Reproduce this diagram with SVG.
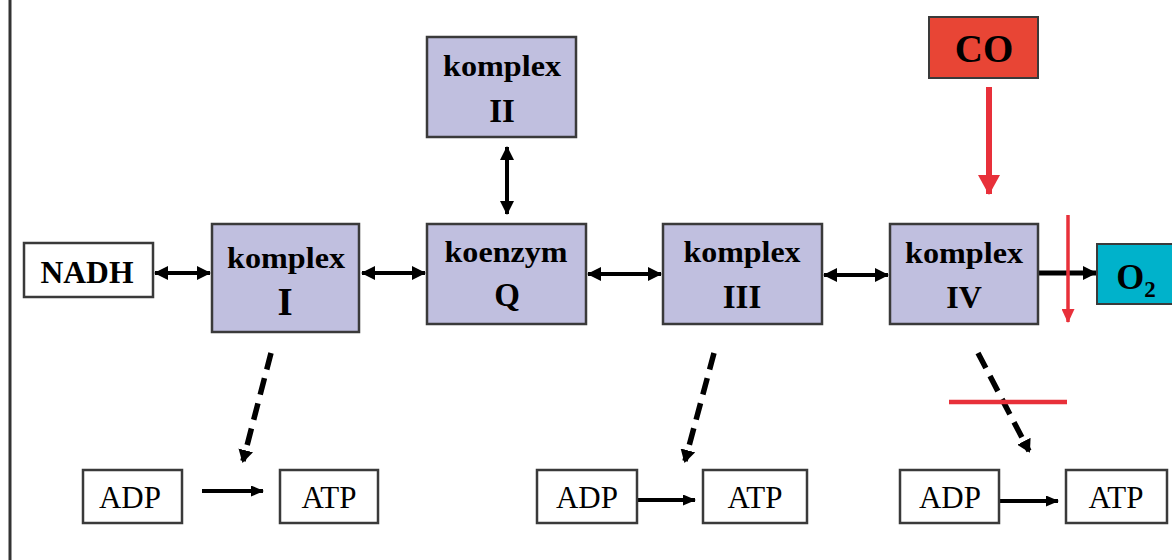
<svg xmlns="http://www.w3.org/2000/svg" width="1172" height="560" viewBox="0 0 1172 560">
  <style>
    .cx { fill: #c0bfdf; stroke: #3a3a3a; stroke-width: 2.5; }
    .wb { fill: #ffffff; stroke: #3a3a3a; stroke-width: 2.5; }
    .bl { font-family: "Liberation Serif", "Times New Roman", serif; font-weight: bold; fill: #000; text-anchor: middle; }
    .rg { font-family: "Liberation Serif", "Times New Roman", serif; fill: #000; text-anchor: middle; font-size: 31px; }
    .dbl { stroke: #000; stroke-width: 4; fill: none; marker-start: url(#hs); marker-end: url(#he); }
    .one { stroke: #000; stroke-width: 4; fill: none; marker-end: url(#hs1); }
    .dash { stroke: #000; stroke-width: 5.5; fill: none; stroke-dasharray: 17 9; marker-end: url(#hd); }
  </style>
  <defs>
    <marker id="he" markerUnits="userSpaceOnUse" viewBox="0 0 14 14" refX="13" refY="7" markerWidth="14" markerHeight="14" orient="auto">
      <path d="M0,0 L14,7 L0,14 Z" fill="#000"/>
    </marker>
    <marker id="hs" markerUnits="userSpaceOnUse" viewBox="0 0 14 14" refX="1" refY="7" markerWidth="14" markerHeight="14" orient="auto">
      <path d="M14,0 L0,7 L14,14 Z" fill="#000"/>
    </marker>
    <marker id="hs1" markerUnits="userSpaceOnUse" viewBox="0 0 13 11" refX="12" refY="5.5" markerWidth="13" markerHeight="11" orient="auto">
      <path d="M0,0 L13,5.5 L0,11 Z" fill="#000"/>
    </marker>
    <marker id="hd" markerUnits="userSpaceOnUse" viewBox="0 0 13 15" refX="11" refY="7.5" markerWidth="13" markerHeight="15" orient="auto">
      <path d="M0,0 L13,7.5 L0,15 Z" fill="#000"/>
    </marker>
    <marker id="hr" markerUnits="userSpaceOnUse" viewBox="0 0 20 22" refX="19" refY="11" markerWidth="20" markerHeight="22" orient="auto">
      <path d="M0,0 L20,11 L0,22 Z" fill="#e8303a"/>
    </marker>
    <marker id="hr2" markerUnits="userSpaceOnUse" viewBox="0 0 14 13" refX="13" refY="6.5" markerWidth="14" markerHeight="13" orient="auto">
      <path d="M0,0 L14,6.5 L0,13 Z" fill="#e8303a"/>
    </marker>
  </defs>

  <rect width="1172" height="560" fill="#ffffff"/>
  <!-- frame edge on the left -->
  <line x1="10" y1="0" x2="10" y2="560" stroke="#333" stroke-width="3"/>

  <!-- connectors -->
  <g id="connectors">
    <line class="dbl" x1="155" y1="273" x2="210" y2="273"/>
    <line class="dbl" x1="362" y1="273" x2="425" y2="273"/>
    <line class="dbl" x1="588" y1="274" x2="661" y2="274"/>
    <line class="dbl" x1="824" y1="275" x2="888" y2="275"/>
    <line class="dbl" x1="507" y1="147" x2="507" y2="214"/>
    <line stroke="#000" stroke-width="5" x1="1039" y1="273" x2="1096" y2="273" marker-end="url(#he)"/>
    <!-- carbon monoxide inhibition -->
    <line stroke="#e8303a" stroke-width="6" x1="989" y1="87" x2="989" y2="194" marker-end="url(#hr)"/>
    <line stroke="#e8303a" stroke-width="3.5" x1="1068" y1="215" x2="1068" y2="322" marker-end="url(#hr2)"/>
    <!-- phosphorylation links -->
    <line class="dash" x1="271" y1="353" x2="243" y2="461"/>
    <line class="dash" x1="714" y1="353" x2="685" y2="461"/>
    <line class="dash" x1="978" y1="353" x2="1029" y2="451"/>
    <line stroke="#e8303a" stroke-width="4.5" x1="949" y1="402" x2="1067" y2="402"/>
    <line class="one" x1="202" y1="491" x2="263" y2="491"/>
    <line class="one" x1="637" y1="500" x2="695" y2="500"/>
    <line class="one" x1="1000" y1="501" x2="1058" y2="501"/>
  </g>

  <g id="nadh">
    <rect class="wb" x="24" y="243" width="129" height="54"/>
    <text class="bl" x="87" y="283" font-size="31" textLength="93" lengthAdjust="spacingAndGlyphs">NADH</text>
  </g>
  <g id="komplex-1">
    <rect class="cx" x="212" y="224" width="147" height="108"/>
    <text class="bl" x="286" y="268" font-size="29" textLength="118" lengthAdjust="spacingAndGlyphs">komplex</text>
    <text class="bl" x="285" y="315" font-size="39">I</text>
  </g>
  <g id="komplex-2">
    <rect class="cx" x="427" y="37" width="149" height="100"/>
    <text class="bl" x="502" y="76" font-size="29" textLength="118" lengthAdjust="spacingAndGlyphs">komplex</text>
    <text class="bl" x="502" y="122" font-size="33">II</text>
  </g>
  <g id="koenzym-q">
    <rect class="cx" x="427" y="224" width="159" height="100"/>
    <text class="bl" x="506" y="262" font-size="29" textLength="123" lengthAdjust="spacingAndGlyphs">koenzym</text>
    <text class="bl" x="507" y="306" font-size="33">Q</text>
  </g>
  <g id="komplex-3">
    <rect class="cx" x="663" y="224" width="159" height="100"/>
    <text class="bl" x="742" y="262" font-size="29" textLength="117" lengthAdjust="spacingAndGlyphs">komplex</text>
    <text class="bl" x="742" y="308" font-size="33">III</text>
  </g>
  <g id="komplex-4">
    <rect class="cx" x="890" y="224" width="148" height="100"/>
    <text class="bl" x="964" y="263" font-size="29" textLength="118" lengthAdjust="spacingAndGlyphs">komplex</text>
    <text class="bl" x="964" y="308" font-size="32">IV</text>
  </g>
  <g id="co">
    <rect x="929" y="17" width="109" height="61" fill="#e84535" stroke="#3a3a3a" stroke-width="2"/>
    <text class="bl" x="984" y="62" font-size="39">CO</text>
  </g>
  <g id="o2">
    <rect x="1097" y="244" width="80" height="60" fill="#00b2cb" stroke="#3a3a3a" stroke-width="2"/>
    <text class="bl" x="1136" y="289" font-size="36">O<tspan font-size="23" dy="8">2</tspan></text>
  </g>

  <g id="adp-1">
    <rect class="wb" x="83" y="470" width="99" height="53"/>
    <text class="rg" x="130" y="508">ADP</text>
  </g>
  <g id="atp-1">
    <rect class="wb" x="280" y="470" width="98" height="53"/>
    <text class="rg" x="329" y="508">ATP</text>
  </g>
  <g id="adp-2">
    <rect class="wb" x="537" y="470" width="100" height="53"/>
    <text class="rg" x="587" y="508">ADP</text>
  </g>
  <g id="atp-2">
    <rect class="wb" x="703" y="470" width="104" height="53"/>
    <text class="rg" x="755" y="508">ATP</text>
  </g>
  <g id="adp-3">
    <rect class="wb" x="900" y="470" width="99" height="53"/>
    <text class="rg" x="950" y="508">ADP</text>
  </g>
  <g id="atp-3">
    <rect class="wb" x="1066" y="470" width="101" height="53"/>
    <text class="rg" x="1116" y="508">ATP</text>
  </g>
</svg>
